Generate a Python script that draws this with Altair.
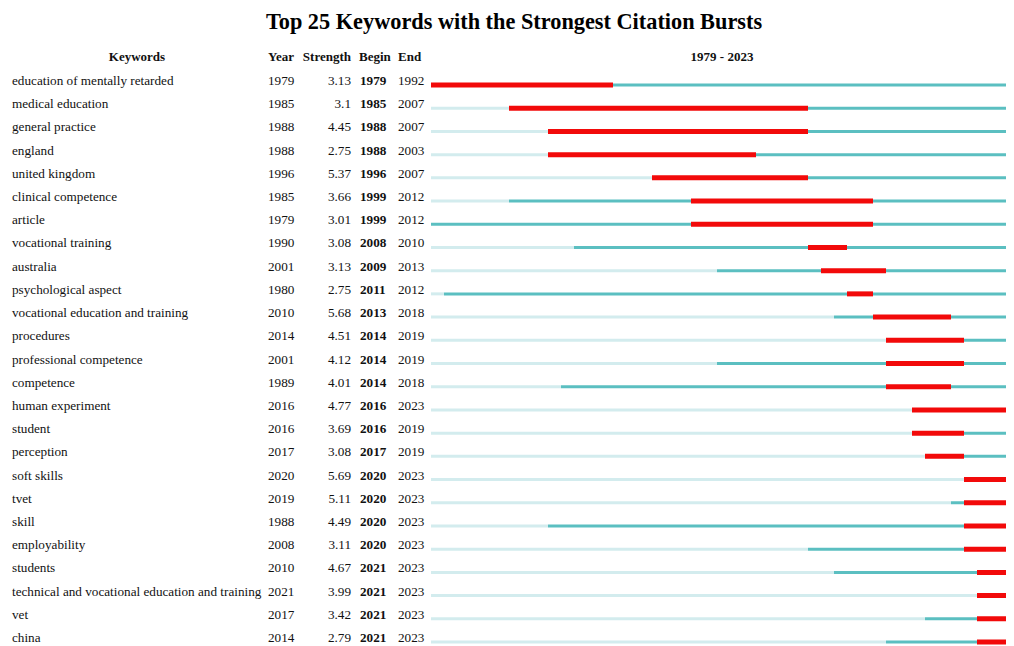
import altair as alt
import pandas as pd

keywords = [
    "education of mentally retarded", "medical education", "general practice", "england",
    "united kingdom", "clinical competence", "article", "vocational training", "australia",
    "psychological aspect", "vocational education and training", "procedures",
    "professional competence", "competence", "human experiment", "student", "perception",
    "soft skills", "tvet", "skill", "employability", "students",
    "technical and vocational education and training", "vet", "china",
]
years = [1979, 1985, 1988, 1988, 1996, 1985, 1979, 1990, 2001, 1980, 2010, 2014, 2001,
         1989, 2016, 2016, 2017, 2020, 2019, 1988, 2008, 2010, 2021, 2017, 2014]
strengths = ["3.13", "3.1", "4.45", "2.75", "5.37", "3.66", "3.01", "3.08", "3.13", "2.75",
             "5.68", "4.51", "4.12", "4.01", "4.77", "3.69", "3.08", "5.69", "5.11", "4.49",
             "3.11", "4.67", "3.99", "3.42", "2.79"]
begins = [1979, 1985, 1988, 1988, 1996, 1999, 1999, 2008, 2009, 2011, 2013, 2014, 2014,
          2014, 2016, 2016, 2017, 2020, 2020, 2020, 2020, 2021, 2021, 2021, 2021]
ends = [1992, 2007, 2007, 2003, 2007, 2012, 2012, 2010, 2013, 2012, 2018, 2019, 2019,
        2018, 2023, 2019, 2019, 2023, 2023, 2023, 2023, 2023, 2023, 2023, 2023]
first_year = 1979
last_year = 2023

title_text = "Top 25 Keywords with the Strongest Citation Bursts"
header_keywords = "Keywords"
header_year = "Year"
header_strength = "Strength"
header_begin = "Begin"
header_end = "End"
header_span = f"{first_year} - {last_year}"

df = pd.DataFrame({
    "keyword": keywords,
    "year": years,
    "strength": strengths,
    "begin": [str(b) for b in begins],
    "end": [str(e) for e in ends],
    "begin_n": begins,
    "end_n": [e + 1 for e in ends],
    "start": [first_year] * len(keywords),
    "stop": [last_year + 1] * len(keywords),
    "idx": list(range(len(keywords))),
    "year_label": [str(y) for y in years],
})

FONT = "Liberation Serif"
TOP = 29          # title band (padding top)
ORIGIN = 8 + TOP  # page y of plot top
Y_FIRST = 81 - ORIGIN
Y_LAST = 638 - ORIGIN
W = 998
H = 609

x_scale = alt.Scale(domain=[first_year, last_year + 1], range=[423, 1008])
y_scale = alt.Scale(domain=[0, len(keywords) - 1], range=[Y_FIRST, Y_LAST])

base = alt.Chart(df)
Y = alt.Y("idx:Q", scale=y_scale, axis=None)

light = base.mark_rule(color="#d3ecee", strokeWidth=3, clip=True, yOffset=4).encode(
    x=alt.X("start:Q", scale=x_scale, axis=None), x2="year:Q", y=Y)
teal = base.mark_rule(color="#5bbfc1", strokeWidth=3, clip=True, yOffset=4).encode(
    x=alt.X("year:Q", scale=x_scale, axis=None), x2="stop:Q", y=Y)
red = base.mark_rule(color="#f20a0a", strokeWidth=5, clip=True, yOffset=4).encode(
    x=alt.X("begin_n:Q", scale=x_scale, axis=None), x2="end_n:Q", y=Y)

FS = 13.2
TXT = "#111"
kw_text = base.mark_text(align="left", baseline="middle", font=FONT, fontSize=FS, color=TXT).encode(
    x=alt.value(4), y=Y, text="keyword:N")
yr_text = base.mark_text(align="left", baseline="middle", font=FONT, fontSize=FS, color=TXT).encode(
    x=alt.value(260), y=Y, text="year_label:N")
st_text = base.mark_text(align="right", baseline="middle", font=FONT, fontSize=FS, color=TXT).encode(
    x=alt.value(343), y=Y, text="strength:N")
bg_text = base.mark_text(align="left", baseline="middle", font=FONT, fontSize=FS, fontWeight="bold", color=TXT).encode(
    x=alt.value(352), y=Y, text="begin:N")
en_text = base.mark_text(align="left", baseline="middle", font=FONT, fontSize=FS, color=TXT).encode(
    x=alt.value(390), y=Y, text="end:N")

HY = 57 - ORIGIN


def header(label, x, align):
    return alt.Chart(pd.DataFrame({"t": [label]})).mark_text(
        align=align, baseline="middle", font=FONT, fontSize=13, fontWeight="bold", color=TXT
    ).encode(x=alt.value(x), y=alt.value(HY), text="t:N")


headers = [
    header(header_keywords, 129, "center"),
    header(header_year, 260, "left"),
    header(header_strength, 343, "right"),
    header(header_begin, 351, "left"),
    header(header_end, 390, "left"),
    header(header_span, 714, "center"),
]

chart = alt.layer(light, teal, red, kw_text, yr_text, st_text, bg_text, en_text, *headers).properties(
    width=W,
    height=H,
    padding={"left": 0, "right": 0, "top": TOP, "bottom": 0},
    autosize=alt.AutoSizeParams(type="none"),
    title=alt.TitleParams(title_text, font=FONT, fontSize=22.3, fontWeight="bold", color="#000",
                          anchor="middle", dx=7),
).configure_view(stroke=None)

chart.save("out.html", embed_options={"renderer": "svg", "actions": False})
